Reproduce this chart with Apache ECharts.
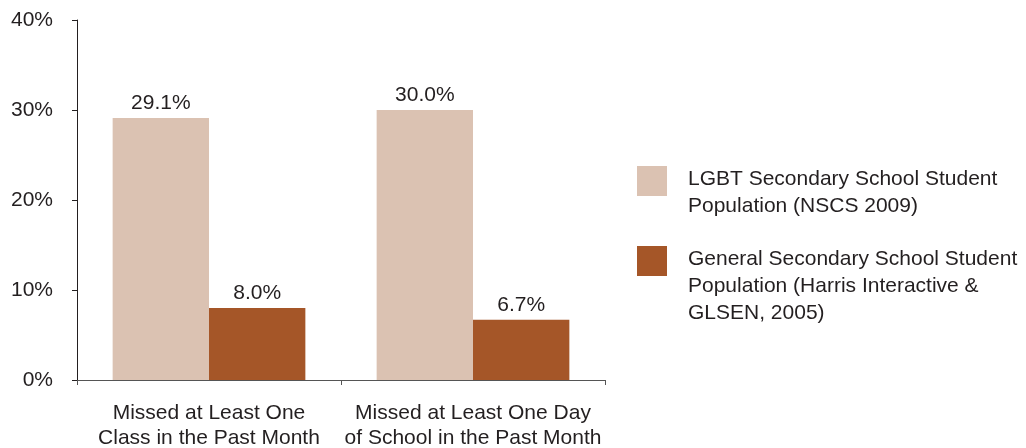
<!DOCTYPE html>
<html>
<head>
<meta charset="utf-8">
<script src="https://cdn.jsdelivr.net/npm/echarts@6/dist/echarts.min.js"></script>
<style>
html,body{margin:0;padding:0;background:#fff;}
#chart{width:1026px;height:448px;}
</style>
</head>
<body>
<div id="chart"></div>
<script>
const categories = ['Missed at Least One\nClass in the Past Month', 'Missed at Least One Day\nof School in the Past Month'];
const seriesNames = ['LGBT Secondary School Student\nPopulation (NSCS 2009)', 'General Secondary School Student\nPopulation (Harris Interactive &\nGLSEN, 2005)'];
const lgbtValues = [29.1, 30.0];
const generalValues = [8.0, 6.7];
const colors = ['#dbc2b2', '#a55628'];

const FONT = 'Liberation Sans';
const FS = 21;
const TXT = '#231f20';
const chart = echarts.init(document.getElementById('chart'), null, {renderer: 'canvas'});
function legendFor(name, lines, top) {
  const h = lines * 27;
  return {
    data: [{name: name, icon: 'path://M0,0H30V30H0Z M0,' + (h - 0.01) + 'H0.01V' + h + 'H0Z'}],
    orient: 'vertical', left: 637, top: top, padding: 0,
    itemWidth: 30, itemHeight: h, itemGap: 0,
    textStyle: {fontFamily: FONT, fontSize: FS, color: TXT, lineHeight: 27, padding: [4, 0, 0, 16]},
    selectedMode: false
  };
}
chart.setOption({
  animation: false,
  textStyle: {fontFamily: FONT},
  grid: {left: 77, right: 421, top: 20, bottom: 68, containLabel: false, outerBoundsMode: 'none'},
  legend: [
    legendFor(seriesNames[0], 2, 164),
    legendFor(seriesNames[1], 3, 244)
  ],
  xAxis: {
    type: 'category', data: categories,
    axisLine: {lineStyle: {color: '#555', width: 1}},
    axisTick: {show: true, length: 5, inside: false, lineStyle: {color: '#555'}},
    axisLabel: {fontFamily: FONT, fontSize: FS, color: TXT, lineHeight: 25, margin: 21, interval: 0}
  },
  yAxis: {
    type: 'value', min: 0, max: 40, interval: 10,
    axisLine: {show: true, lineStyle: {color: TXT, width: 1}},
    axisTick: {show: true, length: 5, lineStyle: {color: TXT}},
    splitLine: {show: false},
    axisLabel: {fontFamily: FONT, fontSize: FS, color: TXT, margin: 24, formatter: '{value}%'}
  },
  series: [
    {
      name: seriesNames[0], type: 'bar', data: lgbtValues, barGap: '0%', barCategoryGap: '27%',
      itemStyle: {color: colors[0]},
      label: {show: true, position: 'top', distance: 4, fontFamily: FONT, fontSize: FS, color: TXT,
        formatter: p => p.value.toFixed(1) + '%'}
    },
    {
      name: seriesNames[1], type: 'bar', data: generalValues, barGap: '0%', barCategoryGap: '27%',
      itemStyle: {color: colors[1]},
      label: {show: true, position: 'top', distance: 4, fontFamily: FONT, fontSize: FS, color: TXT,
        formatter: p => p.value.toFixed(1) + '%'}
    }
  ]
});
</script>
</body>
</html>
